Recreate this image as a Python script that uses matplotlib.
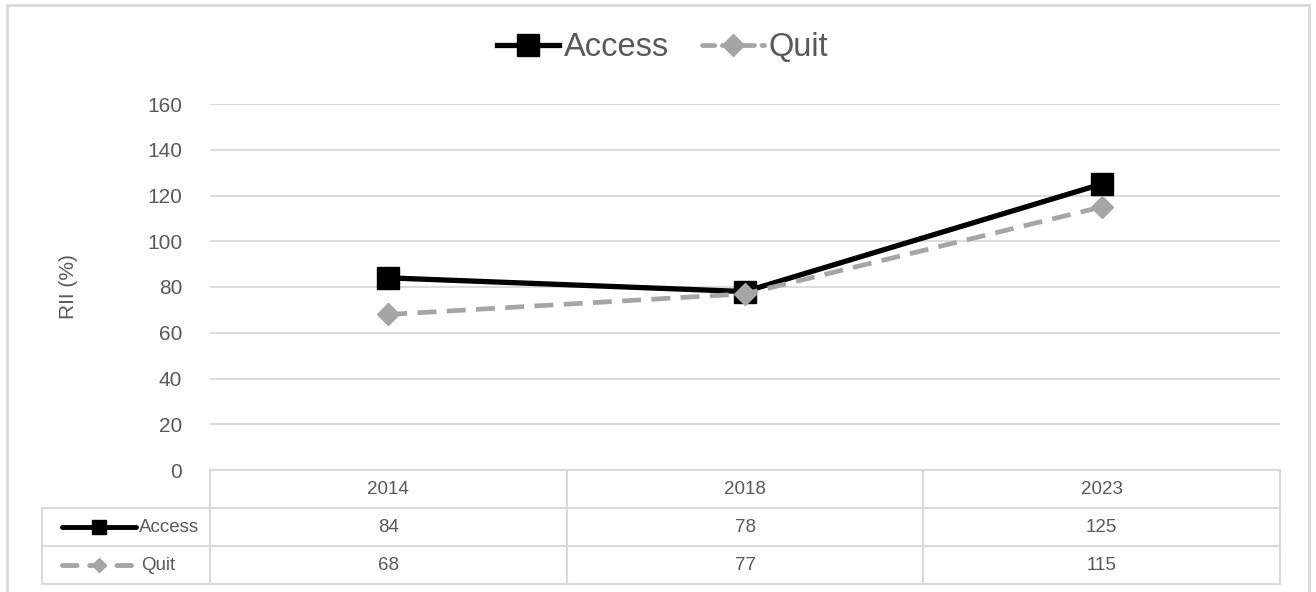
import matplotlib.pyplot as plt
from matplotlib.patches import Rectangle

years = ["2014", "2018", "2023"]
access = [84, 78, 125]
quit_rate = [68, 77, 115]
yticks = [0, 20, 40, 60, 80, 100, 120, 140, 160]

W, H = 1316, 592
TXT = "#595959"
GRID = "#d9d9d9"
QCOL = "#a5a5a5"
plt.rcParams['font.family'] = ['Liberation Sans', 'DejaVu Sans']

fig = plt.figure(figsize=(W / 100, H / 100), dpi=100)

# chart frame
fig.patches.append(Rectangle((7 / W, -0.02), 1302 / W, 1 - 5 / H + 0.02, transform=fig.transFigure,
                             fill=False, edgecolor=GRID, linewidth=2))

def px(x0, y0, x1, y1):
    return [x0 / W, 1 - y1 / H, (x1 - x0) / W, (y1 - y0) / H]

ax = fig.add_axes(px(210, 104, 1280, 470))
xs = list(range(len(years)))
ax.plot(xs, access, color="black", linewidth=3.8, marker="s", markersize=16.5, label="Access", zorder=3)
ax.plot(xs, quit_rate, color=QCOL, linewidth=3.4, linestyle=(0, (4, 2.2)), marker="D", markersize=11,
        label="Quit", zorder=4)
ax.set_xlim(-0.5, len(years) - 0.5)
ax.set_ylim(0, 160)
ax.set_yticks(yticks)
ax.set_xticks([])
ax.grid(axis="y", color=GRID, linewidth=1.3)
for s in ax.spines.values():
    s.set_visible(False)
ax.tick_params(axis="y", length=0, pad=20, labelsize=15, labelcolor=TXT)
ax.set_ylabel("RII (%)", fontsize=15, color=TXT, labelpad=50)

leg = fig.legend(loc="center", bbox_to_anchor=(663 / W, 1 - 48 / H), ncol=2, frameon=False,
                 fontsize=23.5, labelcolor=TXT, handlelength=1.9, columnspacing=1.0, handletextpad=0.15)
leg.get_lines()[1].set_linestyle((0, (2.6, 1.6)))
leg.get_lines()[1].set_dash_capstyle("round")

# data table
tax = fig.add_axes(px(42, 470, 1280, 584))
n = len(years)
left = -168 / (1070 / n)
tax.set_xlim(left, n)
tax.set_ylim(3, 0)
tax.axis("off")
lc = dict(color=GRID, linewidth=1.5, clip_on=False)
tax.plot([0, n], [0, 0], **lc)
for r in [1, 2, 3]:
    tax.plot([left, n], [r, r], **lc)
tax.plot([left, left], [1, 3], **lc)
for c in range(n + 1):
    tax.plot([c, c], [0, 3], **lc)
for i, y in enumerate(years):
    tax.text(i + 0.5, 0.5, y, ha="center", va="center", fontsize=13.5, color=TXT)
    tax.text(i + 0.5, 1.5, str(access[i]), ha="center", va="center", fontsize=13.5, color=TXT)
    tax.text(i + 0.5, 2.5, str(quit_rate[i]), ha="center", va="center", fontsize=13.5, color=TXT)

# row keys
u = 1070 / n
kx0, kx1 = left + 20 / u, left + 94 / u
tax.plot([kx0, kx1], [1.5, 1.5], color="black", linewidth=3.5, solid_capstyle="round")
tax.plot([(kx0 + kx1) / 2], [1.5], marker="s", color="black", markersize=10)
tax.plot([kx0, kx1], [2.5, 2.5], color=QCOL, linewidth=3.5, linestyle=(0, (3, 2.6)), dash_capstyle="round")
tax.plot([(kx0 + kx1) / 2], [2.5], marker="D", color=QCOL, markersize=7)
tax.text(kx1 + 3 / u, 1.5, "Access", ha="left", va="center", fontsize=13.5, color=TXT)
tax.text(kx1 + 5 / u, 2.5, "Quit", ha="left", va="center", fontsize=13.5, color=TXT)

fig.savefig("out.png", dpi=100)
